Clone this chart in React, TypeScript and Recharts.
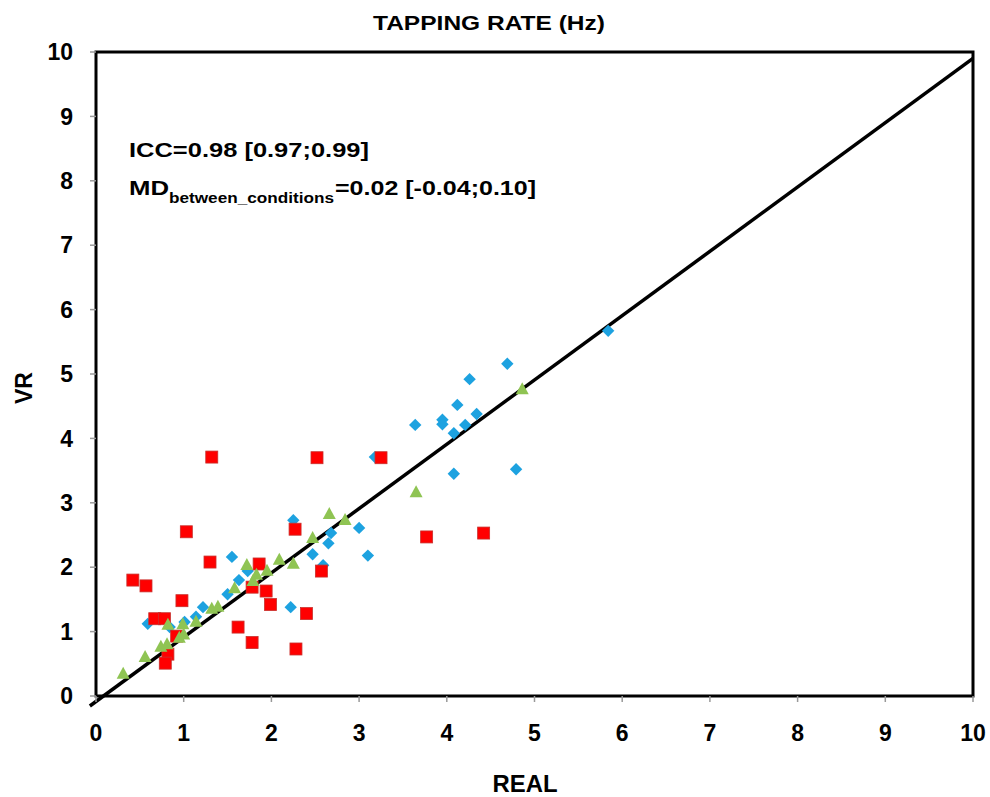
import React from 'react';
import { ScatterChart, Scatter, XAxis, YAxis, ReferenceLine, ReferenceArea } from 'recharts';

const axisTicks = [0, 1, 2, 3, 4, 5, 6, 7, 8, 9, 10];

const blueX = [5.84, 4.69, 4.26, 4.12, 4.34, 3.95, 3.95, 3.64, 4.21, 4.08, 4.79, 4.08, 3.18, 3.0, 2.25, 2.68, 2.65, 2.47, 3.1, 2.59, 2.22, 1.55, 1.73, 1.63, 1.5, 1.22, 1.14, 0.59, 0.84, 1.01];
const blueY = [5.67, 5.16, 4.92, 4.52, 4.38, 4.29, 4.22, 4.21, 4.21, 4.08, 3.52, 3.45, 3.71, 2.61, 2.73, 2.53, 2.37, 2.2, 2.18, 2.03, 1.38, 2.16, 1.94, 1.8, 1.58, 1.38, 1.23, 1.12, 1.07, 1.15];

const redX = [3.25, 3.77, 4.42, 2.27, 2.57, 2.4, 2.28, 1.32, 2.52, 1.03, 0.42, 0.57, 1.3, 1.86, 0.98, 1.78, 1.94, 1.99, 0.67, 0.78, 0.92, 1.62, 1.78, 0.82, 0.79];
const redY = [3.7, 2.47, 2.53, 2.59, 1.94, 1.28, 0.73, 3.71, 3.7, 2.55, 1.8, 1.71, 2.08, 2.05, 1.48, 1.69, 1.63, 1.42, 1.2, 1.2, 0.93, 1.07, 0.83, 0.65, 0.51];

const greenX = [4.86, 3.65, 2.84, 2.66, 2.47, 2.25, 2.09, 0.31, 0.56, 0.74, 0.81, 0.82, 0.99, 0.95, 1.14, 1.32, 1.39, 1.58, 1.72, 1.83, 1.79, 1.95, 1.0];
const greenY = [4.78, 3.18, 2.75, 2.84, 2.47, 2.07, 2.13, 0.36, 0.62, 0.78, 0.82, 1.12, 1.13, 0.92, 1.17, 1.37, 1.4, 1.69, 2.05, 1.9, 1.8, 1.96, 0.97];

const identityStart = { x: -0.07, y: -0.155 };
const identityEnd = { x: 10, y: 9.9 };

const toPoints = (xs: number[], ys: number[]) => xs.map((x, i) => ({ x, y: ys[i] }));
const blueData = toPoints(blueX, blueY);
const redData = toPoints(redX, redY);
const greenData = toPoints(greenX, greenY);

const FONT = '"Liberation Sans", Arial, Helvetica, sans-serif';

const Diamond = (props: any) => {
  const { cx, cy } = props;
  const r = 6.2;
  return <path d={`M${cx},${cy - r}L${cx + r},${cy}L${cx},${cy + r}L${cx - r},${cy}Z`} fill="#1da2e0" />;
};
const Square = (props: any) => {
  const { cx, cy } = props;
  const s = 12;
  return <rect x={cx - s / 2} y={cy - s / 2} width={s} height={s} fill="#ff0000" stroke="#c8302c" strokeWidth={0.8} />;
};
const Triangle = (props: any) => {
  const { cx, cy } = props;
  const w = 13;
  const h = 12;
  return <path d={`M${cx},${cy - h / 2}L${cx + w / 2},${cy + h / 2}L${cx - w / 2},${cy + h / 2}Z`} fill="#8fc453" />;
};

const tickStyle = { fontFamily: FONT, fontWeight: 700, fontSize: 23, fill: '#000' };

export default function App() {
  return (
    <div style={{ position: 'absolute', left: 0, top: 0, width: 990, height: 797, background: '#fff' }}>
      <ScatterChart width={990} height={797} margin={{ top: 52, right: 17, bottom: 61, left: 56 }}>
        <XAxis
          type="number"
          dataKey="x"
          domain={[0, 10]}
          ticks={axisTicks}
          allowDataOverflow
          height={40}
          axisLine={false}
          tickLine={{ stroke: '#999', strokeWidth: 1.5 }}
          tickSize={6}
          tickMargin={23}
          tick={tickStyle}
          interval={0}
        />
        <YAxis
          type="number"
          dataKey="y"
          domain={[0, 10]}
          ticks={axisTicks}
          allowDataOverflow
          width={40}
          axisLine={false}
          tickLine={{ stroke: '#999', strokeWidth: 1.5 }}
          tickSize={6}
          tickMargin={17}
          tick={tickStyle}
          interval={0}
        />
        <ReferenceArea x1={0} x2={10} y1={0} y2={10} fill="#fff" fillOpacity={0} stroke="#000" strokeWidth={3} strokeOpacity={1} ifOverflow="visible" />
        <Scatter data={blueData} shape={Diamond} isAnimationActive={false} />
        <Scatter data={redData} shape={Square} isAnimationActive={false} />
        <Scatter data={greenData} shape={Triangle} isAnimationActive={false} />
        <ReferenceLine segment={[identityStart, identityEnd]} stroke="#000" strokeWidth={3.5} ifOverflow="visible" />
      </ScatterChart>
      <svg width={990} height={797} style={{ position: 'absolute', left: 0, top: 0, pointerEvents: 'none' }}>
        <g fontFamily={FONT} fontWeight={700} fill="#000">
          <text x={489} y={30} fontSize={21} textAnchor="middle" textLength={232} lengthAdjust="spacingAndGlyphs">TAPPING RATE (Hz)</text>
          <text x={129} y={157} fontSize={20} textLength={240} lengthAdjust="spacingAndGlyphs">ICC=0.98 [0.97;0.99]</text>
          <text x={129} y={195} fontSize={20} textLength={40} lengthAdjust="spacingAndGlyphs">MD</text>
          <text x={169} y={203} fontSize={14} textLength={165} lengthAdjust="spacingAndGlyphs">between_conditions</text>
          <text x={335} y={195} fontSize={20} textLength={201} lengthAdjust="spacingAndGlyphs">=0.02 [-0.04;0.10]</text>
          <text x={525} y={792} fontSize={24} textAnchor="middle" textLength={65} lengthAdjust="spacingAndGlyphs">REAL</text>
          <text x={0} y={0} fontSize={23} textAnchor="middle" transform="translate(32,388) rotate(-90)">VR</text>
        </g>
      </svg>
    </div>
  );
}
